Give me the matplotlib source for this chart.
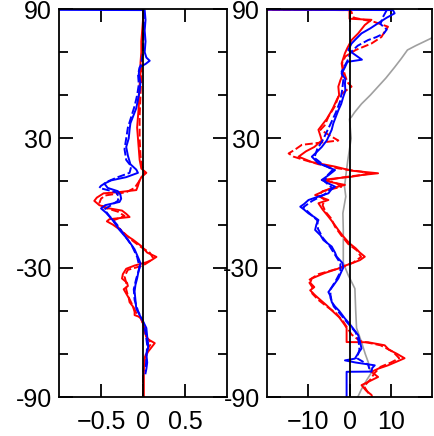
import matplotlib
matplotlib.use("Agg")
import matplotlib.pyplot as plt
from matplotlib.ticker import MultipleLocator

plt.rcParams["font.family"] = ["Liberation Sans", "DejaVu Sans"]

# ---- left panel (small scale) ----
lat_l_red = [89, 85, 80, 75, 70, 65, 60, 55, 50, 45, 40, 35, 30, 25, 20, 16, 14, 12, 10.5, 8, 6, 5,
             4.5, 2.5, 1, -1, -2.5, -3.5, -5, -6.5, -7.5, -8.5, -10, -12.5, -15, -17, -20, -23, -25,
             -26.5, -27.5, -29, -30.5, -33, -35, -37, -38.5, -40, -42, -44, -46, -48, -50.5, -52,
             -53, -56, -60, -63, -65, -67, -69, -72, -76, -80, -85, -90]
red_l = [0.0, 0.0, -0.01, -0.02, -0.02, -0.03, -0.03, -0.04, -0.05, -0.05, -0.06, -0.07, -0.06,
         -0.05, -0.04, -0.02, 0.04, -0.02, -0.04, -0.06, -0.08, -0.3, -0.47, -0.55, -0.58, -0.52,
         -0.4, -0.25, -0.2, -0.16, -0.4, -0.43, -0.36, -0.27, -0.2, -0.12, -0.02, 0.05, 0.16, 0.1,
         0.04, -0.1, -0.2, -0.24, -0.25, -0.19, -0.18, -0.23, -0.2, -0.17, -0.16, -0.12, -0.1, -0.1,
         -0.03, 0.0, 0.02, 0.05, 0.14, 0.1, 0.06, 0.02, 0.01, 0.01, 0.01, 0.01]

lat_l_red2 = [89, 80, 70, 60, 50, 40, 30, 22, 17, 14, 11, 7, 5, 3.5, 2, 0, -2, -4, -6, -8, -10, -13,
              -17, -20, -23, -25.5, -27, -29, -31, -34, -37, -40, -43, -47, -51, -54, -58, -62, -65,
              -68, -72, -80, -90]
red_l2 = [0.01, 0.0, -0.01, -0.02, -0.03, -0.04, -0.04, -0.03, -0.01, 0.02, -0.03, -0.1, -0.2,
          -0.45, -0.5, -0.52, -0.47, -0.3, -0.22, -0.35, -0.33, -0.25, -0.14, -0.04, 0.08, 0.12,
          0.08, 0.0, -0.18, -0.22, -0.2, -0.2, -0.18, -0.13, -0.08, -0.02, 0.02, 0.04, 0.1, 0.05,
          0.02, 0.0, 0.0]

lat_l_blue = [90, 89.5, 85, 80, 75, 70, 67.5, 66, 64.5, 63, 60, 56, 52, 48, 44, 40, 37, 34, 30, 26,
              22, 18, 15.5, 14, 12, 10.5, 9, 7, 5.5, 4, 2, 0.5, -1, -2.5, -4.5, -8, -12.5, -17,
              -21.5, -26, -28, -31, -35, -38, -41, -45, -49, -52, -54, -58, -62, -65, -67.5, -70,
              -74, -77, -79]
blue_l = [-5, 0.02, 0.03, 0.02, 0.03, 0.02, 0.04, 0.08, 0.03, -0.04, -0.05, -0.03, -0.04, -0.06,
          -0.08, -0.12, -0.15, -0.16, -0.17, -0.2, -0.18, -0.15, -0.08, -0.06, -0.2, -0.38, -0.46,
          -0.42, -0.3, -0.27, -0.26, -0.28, -0.45, -0.5, -0.44, -0.36, -0.28, -0.18, -0.1, -0.05,
          -0.03, -0.05, -0.07, -0.09, -0.1, -0.09, -0.08, -0.04, -0.01, 0.04, 0.05, 0.06, 0.06,
          0.04, 0.05, 0.04, 0.03]

lat_l_blue2 = [89, 80, 70, 65, 60, 55, 50, 45, 40, 35, 30, 25, 20, 17, 14, 12, 10, 8, 7, 5, 3, 1,
               -1.5, -3, -6, -10, -15, -20, -25, -30, -35, -40, -45, -50, -55, -60, -66, -72, -78]
blue_l2 = [0.01, 0.01, 0.0, -0.02, -0.06, -0.05, -0.07, -0.1, -0.14, -0.18, -0.2, -0.22, -0.2,
           -0.14, -0.16, -0.3, -0.42, -0.5, -0.52, -0.32, -0.29, -0.3, -0.4, -0.46, -0.4, -0.31,
           -0.22, -0.13, -0.07, -0.04, -0.08, -0.11, -0.1, -0.06, 0.0, 0.03, 0.05, 0.04, 0.03]

# ---- right panel (large scale) ----
lat_r_red = [90, 89.5, 85.5, 85, 82.6, 78.7, 75.6, 72, 69.5, 64.8, 60, 57, 54, 50, 47.8, 44, 41.6,
             39, 37, 34, 31, 29, 26, 24, 21.5, 19, 16.9, 15, 13.8, 13, 12.2, 11.5, 10.7, 9.5, 8.4,
             6.5, 3.7, 1.4, -0.1, -3, -6.3, -9, -12.5, -15.5, -18.7, -21, -23, -24.9, -26.5, -28,
             -29, -30.4, -32.5, -35, -37, -39, -40.5, -42.8, -45, -47.5, -50.5, -53, -56.7, -58,
             -64.5, -64.6, -66, -68, -70, -72, -73.5, -75.3, -76.8, -78.3, -80.7, -82.5, -84.5,
             -87, -89, -90]
red_r = [-60, 0, 0, 5.3, 3.7, 2.1, 0.5, -0.5, -1.1, -1.9, -1.5, -2.2, -2.7, -2.5, -3.1, -4.0, -4.7,
         -5.5, -6.3, -7.5, -7.0, -6.7, -8.5, -10.5, -12.3, -9.1, -3.5, 0.5, 6.9, 3.0, 0.5, -3.0,
         -6.7, -4.0, -1.1, -5.0, -8.3, -5.1, -7.5, -6.5, -5.1, -4.0, -2.7, -1.5, 0.0, 1.5, 2.5,
         3.7, 2.5, 0.5, -1.0, -2.7, -6.0, -9.1, -9.5, -8.5, -9.5, -8.3, -7.0, -5.5, -3.9, -2.5,
         -1.1, -0.7, -0.7, 4.5, 8.5, 9.5, 11.5, 13.3, 11.5, 9.3, 7.0, 5.3, 6.9, 5.0, 2.9, 4.0,
         5.3, 5.5]

lat_r_red2 = [90, 89.5, 86, 84, 81.8, 79.5, 77, 74, 71, 68, 64.8, 60, 56, 54, 52, 49.3, 45, 40, 36,
              34, 31, 29, 27, 25, 23, 21.5, 20, 18, 16, 14.5, 13.5, 12.8, 11.8, 10.5, 9, 7.5, 5.5,
              3.5, 1.5, -1, -4, -7, -11, -15, -19, -22, -25, -27.5, -30, -33, -36, -39, -42, -45,
              -48, -51, -55, -58, -61, -64, -66, -69, -72, -74, -76, -79, -82, -85, -88, -90]
red_r2 = [-60, 0.3, 1.0, 6.0, 9.3, 8.5, 7.7, 5.3, 1.5, -1.0, -1.8, -1.2, -0.5, 0.5, -1.0, -2.7,
          -3.5, -5.1, -6.0, -7.0, -4.5, -2.7, -11.5, -13.0, -14.7, -13.5, -11.0, -7.5, -2.5, 3.0,
          4.5, 2.0, -2.0, -5.5, -3.0, -2.0, -6.5, -7.5, -6.0, -6.5, -5.8, -4.5, -3.5, -2.0, -0.3,
          1.8, 2.8, 1.0, -2.0, -7.5, -10.0, -9.0, -9.0, -7.5, -5.5, -3.3, -1.5, -0.5, 0.5, 2.5,
          7.5, 10.5, 12.0, 10.0, 7.5, 6.0, 5.0, 3.5, 4.5, 4.8]

lat_r_blue = [90, 89.5, 88, 86, 83.4, 81, 78.7, 76, 74, 71, 66.5, 65.5, 63, 60, 57.5, 55.5, 52,
              49.3, 46, 43, 40, 37, 34, 32.3, 29, 26, 23.5, 21.5, 18.4, 16.5, 15.3, 13, 10.7, 9,
              7.6, 6, 4.5, 3, 1.4, -0.5, -1.7, -3, -4.8, -6.5, -7.9, -10, -12.5, -15, -17.2, -20.2,
              -23, -24.9, -27.8, -30, -32, -35, -38, -41.3, -43.5, -45.9, -48, -50, -53.6, -56,
              -58.5, -61.3, -64, -67.5, -70, -72.2, -73, -74, -75.3, -76.5, -78.2, -78.3, -90]
blue_r = [-60, 10.5, 10.9, 9.0, 6.9, 5.0, 2.9, 1.5, 0.5, -0.3, 3.0, -0.5, -1.1, -1.9, -1.0, -1.1,
          -1.0, -1.5, -2.0, -2.7, -3.3, -3.9, -4.3, -4.7, -5.5, -6.7, -8.0, -9.1, -7.5, -5.0, -3.5,
          -5.0, -6.7, -5.0, -3.5, -4.5, -5.1, -7.5, -9.9, -11.0, -11.9, -11.0, -9.9, -8.5, -7.5,
          -8.0, -8.3, -7.0, -6.3, -4.3, -3.5, -3.1, -1.7, -1.5, -2.0, -2.7, -3.8, -5.1, -4.5, -4.3,
          -3.5, -2.5, -1.1, 0.0, 1.0, 2.1, 2.5, 2.9, 2.0, 1.3, -1.1, 1.5, 6.1, 5.5, 5.3, -0.7, -0.7]

lat_r_blue2 = [89.5, 86, 83, 80.5, 78.7, 77, 75.6, 73, 70, 66, 61, 57, 52, 47, 42, 37, 33, 29, 25,
               21, 18, 15.5, 12.5, 10, 7, 4, 1, -2, -5, -8, -12, -16, -20, -24, -28, -32, -36, -40,
               -44, -48, -52, -56, -60, -64, -68, -72, -75, -77]
blue_r2 = [9.0, 8.0, 7.5, 9.0, 8.3, 6.5, 4.5, 2.0, 0.3, -0.5, -1.9, -1.5, -1.8, -2.3, -3.3, -4.5,
           -5.5, -6.5, -7.8, -8.5, -6.5, -4.0, -5.5, -6.0, -4.2, -6.0, -9.0, -11.2, -9.5, -7.8,
           -7.6, -6.5, -4.8, -3.5, -2.2, -2.2, -3.3, -4.6, -4.6, -3.8, -2.0, -0.3, 1.5, 2.2, 2.4,
           1.8, 4.5, 4.8]

lat_r_gray = [90, 80, 76.4, 73, 71, 67, 63, 58, 54, 50, 46, 42, 40, 39, 30, 20, 14, 7.6, 3, -4.7,
              -12.5, -20, -27.8, -33.5, -39.7, -50, -58, -64.5, -70, -73.7, -79, -82, -86.7, -90]
gray_r = [26, 22, 19.7, 16, 14, 12.5, 10.9, 8.8, 6.9, 5.0, 2.9, 1.2, 0.5, 0.0, 0.4, -0.4, -0.8,
          -1.2, -0.9, -1.6, -1.5, -1.5, -1.5, -0.3, 1.3, 1.5, 1.7, 2.9, 3.8, 4.5, 5.2, 4.2, 2.8, 2.0]

y_major = [-90, -30, 30, 90]
y_labels = ["-90", "-30", "30", "90"]
x_ticks_l = [-0.5, 0, 0.5]
x_labels_l = ["\u22120.5", "0", "0.5"]
x_ticks_r = [-10, 0, 10]
x_labels_r = ["\u221210", "0", "10"]

RED = "#ff0000"
BLUE = "#0000ff"


def style_axis(ax, xlim, xt, xl):
    ax.set_xlim(*xlim)
    ax.set_ylim(-90, 90)
    ax.set_xticks(xt)
    ax.set_xticklabels(xl)
    ax.set_yticks(y_major)
    ax.set_yticklabels(y_labels)
    ax.yaxis.set_minor_locator(MultipleLocator(20))
    ax.set_yticks([-70, -50, -10, 10, 50, 70], minor=True)
    ax.tick_params(which="both", direction="in", top=True, right=True, width=1.3,
                   labelsize=18)
    ax.tick_params(axis="y", which="major", length=10, pad=5)
    ax.tick_params(axis="y", which="minor", length=6.5)
    ax.tick_params(axis="x", which="major", length=9.5, pad=9)
    for s in ax.spines.values():
        s.set_linewidth(1.3)
    ax.axvline(0, color="black", lw=1.3, zorder=5)


fig = plt.figure(figsize=(4.34, 4.36), dpi=100)
ax1 = fig.add_axes([0.136, 0.0894, 0.387, 0.8899])
ax2 = fig.add_axes([0.6145, 0.0894, 0.3816, 0.8899])

# left
ax1.plot(red_l2, lat_l_red2, color=RED, lw=1.4, ls=(0, (4, 1.5)))
ax1.plot(red_l, lat_l_red, color=RED, lw=1.4)
ax1.plot(blue_l2, lat_l_blue2, color=BLUE, lw=1.4, ls=(0, (4, 1.5)))
ax1.plot(blue_l, lat_l_blue, color=BLUE, lw=1.4)
style_axis(ax1, (-1.0, 1.0), x_ticks_l, x_labels_l)

# right
ax2.plot(gray_r, lat_r_gray, color="#a0a0a0", lw=1.2)
ax2.plot(red_r2, lat_r_red2, color=RED, lw=1.4, ls=(0, (4, 1.5)))
ax2.plot(red_r, lat_r_red, color=RED, lw=1.4)
ax2.plot(blue_r2, lat_r_blue2, color=BLUE, lw=1.4, ls=(0, (4, 1.5)))
ax2.plot(blue_r, lat_r_blue, color=BLUE, lw=1.4)
style_axis(ax2, (-20, 20), x_ticks_r, x_labels_r)

fig.savefig("out.png", dpi=100)
